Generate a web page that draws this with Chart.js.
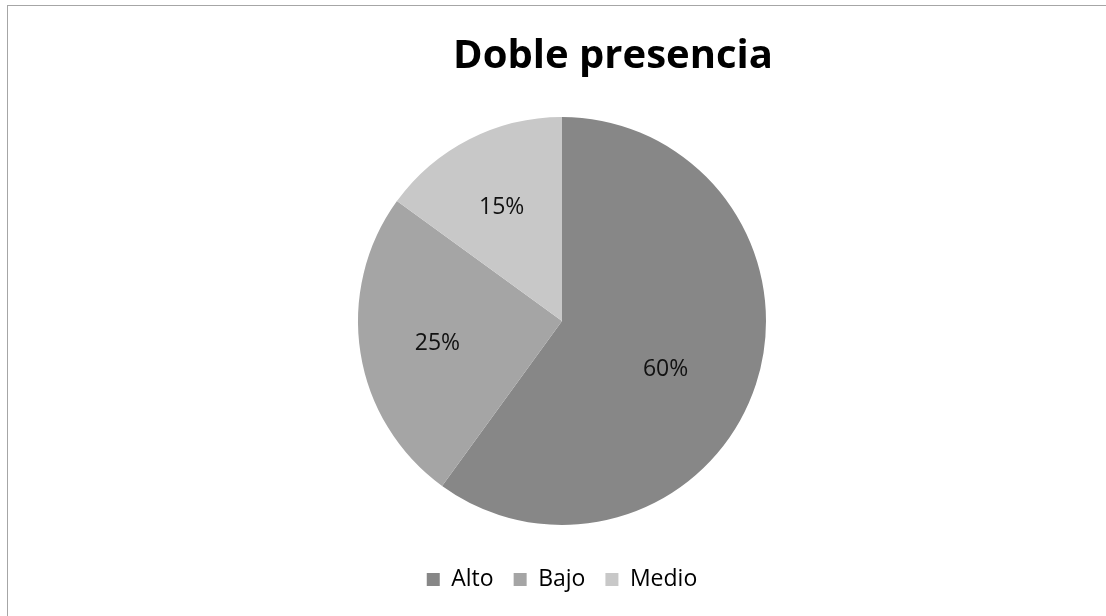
<!DOCTYPE html>
<html>
<head>
<meta charset="utf-8">
<script src="https://cdn.jsdelivr.net/npm/chart.js@4.4.1/dist/chart.umd.min.js"></script>
<style>
  html, body { margin: 0; padding: 0; background: #fff; overflow: hidden; }
  #wrap { position: relative; width: 1106px; height: 616px; }
  #frame {
    position: absolute; left: 7px; top: 5px; width: 1200px; height: 700px;
    border-left: 1px solid #a6a6a6; border-top: 1px solid #a6a6a6;
  }
  canvas { position: absolute; left: 0; top: 0; }
</style>
</head>
<body>
<div id="wrap">
  <div id="frame"></div>
  <canvas id="chart" width="1106" height="616"></canvas>
</div>
<script>
const titleText = 'Doble presencia';
const categories = ['Alto', 'Bajo', 'Medio'];
const values = [60, 25, 15];
const colors = ['#878787', '#a5a5a5', '#c8c8c8'];
// where each percentage label sits: fraction of radius, and a small angle nudge (deg)
const labelSpots = [0.56, 0.62, 0.63];
const labelNudge = [7, -1, -1];

const FONT = '"Open Sans", Lato, sans-serif';

// Title is not centred over the pie in the original, so draw it separately
const titlePlugin = {
  id: 'sideTitle',
  afterDraw(chart) {
    const ctx = chart.ctx;
    ctx.save();
    ctx.font = 'bold 40px ' + FONT;
    ctx.fillStyle = '#000';
    ctx.textAlign = 'center';
    ctx.textBaseline = 'middle';
    ctx.fillText(titleText, 613, 57);
    ctx.restore();
  },
};

// Percentage labels inside the slices
const sliceLabels = {
  id: 'sliceLabels',
  afterDatasetsDraw(chart) {
    const ctx = chart.ctx;
    const meta = chart.getDatasetMeta(0);
    const total = values.reduce((a, b) => a + b, 0);
    ctx.save();
    ctx.font = '23px ' + FONT;
    ctx.fillStyle = '#111';
    ctx.textAlign = 'center';
    ctx.textBaseline = 'middle';
    meta.data.forEach((arc, i) => {
      const p = arc.getProps(['x', 'y', 'startAngle', 'endAngle', 'outerRadius'], true);
      const mid = (p.startAngle + p.endAngle) / 2 + labelNudge[i] * Math.PI / 180;
      const r = p.outerRadius * labelSpots[i];
      const pct = Math.round((values[i] / total) * 100) + '%';
      ctx.fillText(pct, p.x + Math.cos(mid) * r, p.y + Math.sin(mid) * r);
    });
    ctx.restore();
  },
};

new Chart(document.getElementById('chart'), {
  type: 'pie',
  data: {
    labels: categories,
    datasets: [{
      data: values,
      backgroundColor: colors,
      borderWidth: 0,
      radius: 204,
    }],
  },
  options: {
    responsive: false,
    animation: false,
    layout: { padding: { top: 94, left: 18, right: 0, bottom: 15 } },
    plugins: {
      title: { display: false },
      tooltip: { enabled: false },
      legend: {
        position: 'bottom',
        labels: {
          boxWidth: 13,
          boxHeight: 13,
          padding: 20,
          color: '#000',
          font: { family: FONT, size: 23 },
        },
      },
    },
  },
  plugins: [titlePlugin, sliceLabels],
});
</script>
</body>
</html>
